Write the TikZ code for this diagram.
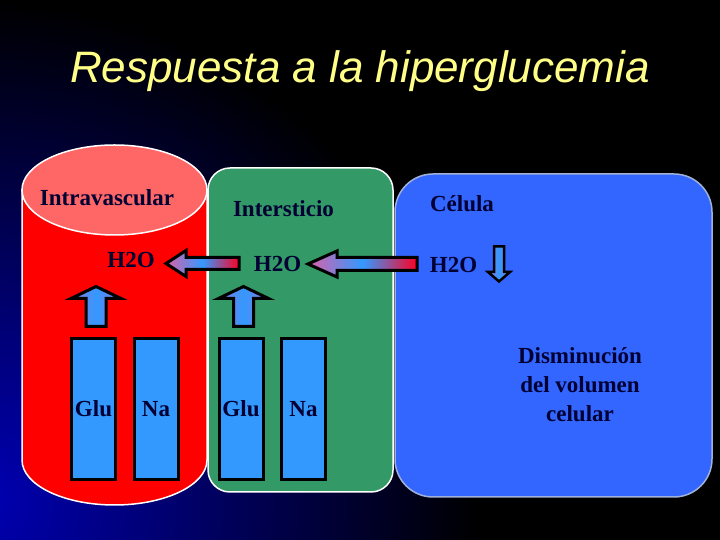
\documentclass[tikz,border=0pt]{standalone}
\usepackage{fontspec}
\setmainfont{Liberation Serif}
\newfontfamily\titlefont{Liberation Sans}
\definecolor{txt}{HTML}{000033}
\definecolor{titleyellow}{HTML}{FFFF88}
\definecolor{redbody}{HTML}{FF0000}
\definecolor{redtop}{HTML}{FF6666}
\definecolor{greenbox}{HTML}{339966}
\definecolor{bluebox}{HTML}{3366FF}
\definecolor{blueedge}{HTML}{A0B0D8}
\definecolor{barblue}{HTML}{3399FF}
\definecolor{bgblue}{HTML}{0000B4}
\definecolor{arrpink}{HTML}{DD60A8}
\definecolor{arrblue}{HTML}{3399FF}
\definecolor{arrred}{HTML}{FF0022}
\definecolor{arrviolet}{HTML}{8877DD}
\begin{document}
\begin{tikzpicture}[x=1pt,y=1pt,
  lbl/.style={font=\fontsize{23}{29}\selectfont\bfseries, text=txt, inner sep=0pt},
  bar/.style={draw=black, line width=3pt, fill=barblue, minimum width=44pt,
    minimum height=141pt, inner sep=0pt, font=\fontsize{23}{29}\selectfont\bfseries, text=txt},
  harrow/.style={draw=black, line width=3pt, line join=miter, left color=arrpink,
    right color=arrred, middle color=arrblue},
  varrow/.style={draw=black, line width=3pt, line join=miter, left color=arrviolet,
    right color=arrviolet, middle color=arrblue}
]
\useasboundingbox (0,0) rectangle (720,540);
% background
\fill[black] (0,0) rectangle (720,540);
\begin{scope}
  \clip (0,0) rectangle (720,540);
  \shade[inner color=bgblue, outer color=black] (-20,40) circle (500);
\end{scope}
% compartments
\filldraw[fill=greenbox, draw=white, line width=1.5pt, rounded corners=22pt]
  (208,48) rectangle (393,372);
\filldraw[fill=bluebox, draw=blueedge, line width=1.5pt, rounded corners=38pt]
  (395,43) rectangle (712,366);
\filldraw[fill=redbody, draw=white, line width=1.5pt]
  (22,350) -- (22,80) arc[start angle=180, end angle=360, x radius=92.5, y radius=45]
  -- (207,350) -- cycle;
\filldraw[fill=redtop, draw=white, line width=1.5pt] (114.5,350) ellipse [x radius=92.5, y radius=45];
% labels
\node[lbl, anchor=base] (intra) at (107,334) {Intravascular};
\node[lbl, anchor=base] (inter) at (283.5,323) {Intersticio};
\node[lbl, anchor=base] (cel) at (462,328) {Célula};
\node[lbl, anchor=base] (h2oA) at (131,272) {H2O};
\node[lbl, anchor=base] (h2oB) at (277.5,268) {H2O};
\node[lbl, anchor=base] (h2oC) at (453.5,267) {H2O};
\node[lbl, align=center] (dism) at (580,155) {Disminución\\del volumen\\celular};
% bars
\node[bar] (gluA) at (93.5,131) {Glu};
\node[bar] (naA) at (156,131) {Na};
\node[bar] (gluB) at (241,131) {Glu};
\node[bar] (naB) at (303.5,131) {Na};
% horizontal arrows
\path[harrow] (166,276.5) -- (186,289.5) -- (186,282.5) -- (239,282.5) -- (239,270.5)
  -- (186,270.5) -- (186,263.5) -- cycle;
\path[harrow] (308,276) -- (337,289) -- (337,282.5) -- (417,282.5) -- (417,269.5)
  -- (337,269.5) -- (337,263) -- cycle;
% up arrows
\path[varrow] (96,253.5) -- (121,241.5) -- (106,241.5) -- (106,213.5) -- (86,213.5)
  -- (86,241.5) -- (71,241.5) -- cycle;
\path[varrow] (243.5,253.5) -- (268.5,241.5) -- (253.5,241.5) -- (253.5,213.5) -- (233.5,213.5)
  -- (233.5,241.5) -- (218.5,241.5) -- cycle;
% down arrow
\path[varrow, line width=2.5pt] (499,258.5) -- (510,268) -- (504,268) -- (504,293.5) -- (494,293.5)
  -- (494,268) -- (488,268) -- cycle;
% title
\node[font=\titlefont\itshape\fontsize{44}{50}\selectfont, text=titleyellow, anchor=base, inner sep=0pt]
  (title) at (360,457) {Respuesta a la hiperglucemia};
\end{tikzpicture}
\end{document}
